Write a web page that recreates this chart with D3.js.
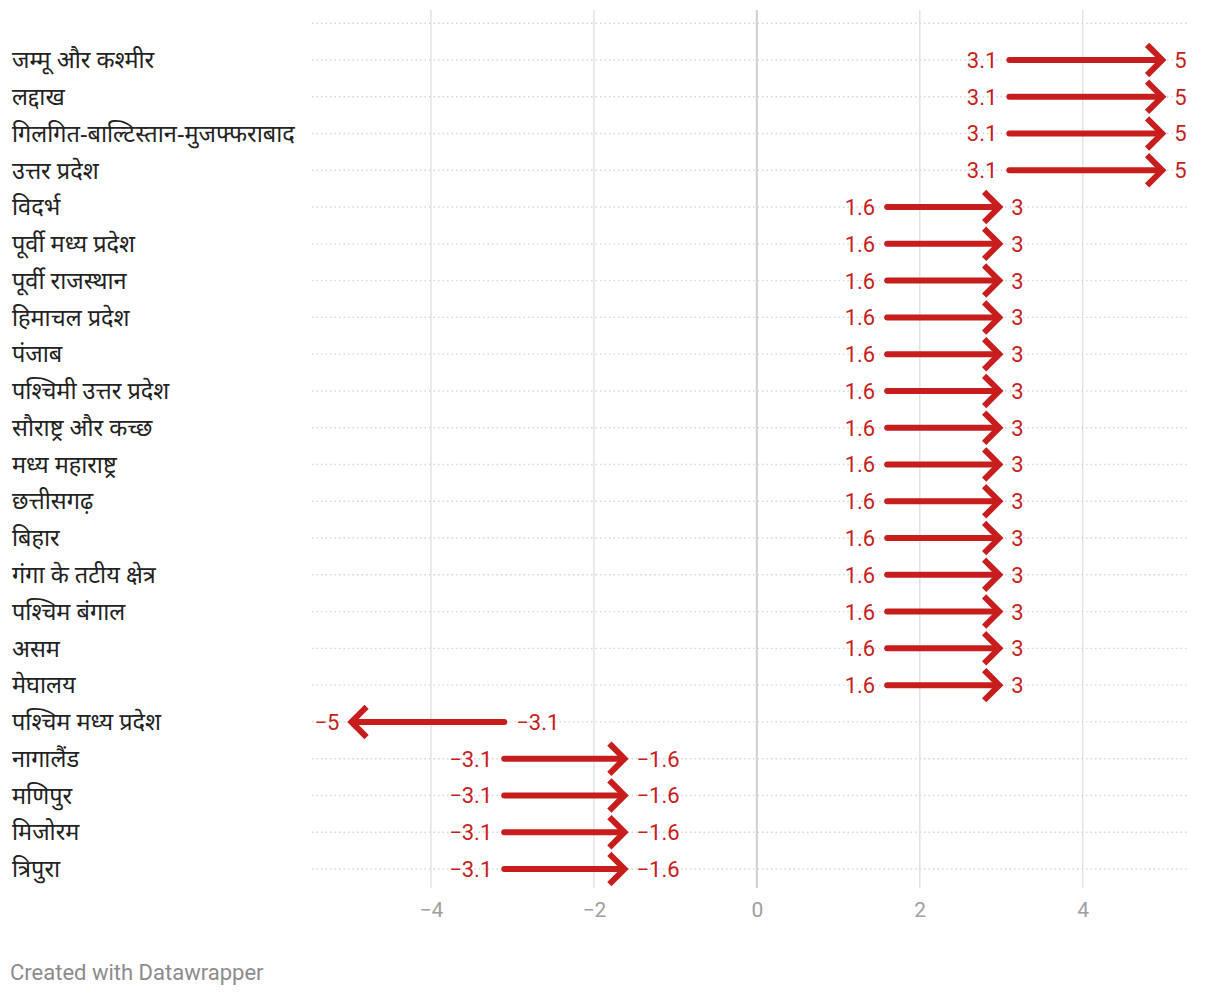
<!DOCTYPE html>
<html>
<head>
<meta charset="utf-8">
<script src="https://cdn.jsdelivr.net/npm/d3@7"></script>
<style>
  body { margin: 0; background: #fff; }
  #chart { width: 1220px; height: 996px; }
</style>
</head>
<body>
<div id="chart"></div>
<script>
const regions = [
  "जम्मू और कश्मीर", "लद्दाख", "गिलगित-बाल्टिस्तान-मुजफ्फराबाद", "उत्तर प्रदेश",
  "विदर्भ", "पूर्वी मध्य प्रदेश", "पूर्वी राजस्थान", "हिमाचल प्रदेश", "पंजाब",
  "पश्चिमी उत्तर प्रदेश", "सौराष्ट्र और कच्छ", "मध्य महाराष्ट्र", "छत्तीसगढ़", "बिहार",
  "गंगा के तटीय क्षेत्र", "पश्चिम बंगाल", "असम", "मेघालय", "पश्चिम मध्य प्रदेश",
  "नागालैंड", "मणिपुर", "मिजोरम", "त्रिपुरा"
];
const startValues = [3.1, 3.1, 3.1, 3.1, 1.6, 1.6, 1.6, 1.6, 1.6, 1.6, 1.6, 1.6, 1.6, 1.6, 1.6, 1.6, 1.6, 1.6, -3.1, -3.1, -3.1, -3.1, -3.1];
const endValues = [5, 5, 5, 5, 3, 3, 3, 3, 3, 3, 3, 3, 3, 3, 3, 3, 3, 3, -5, -1.6, -1.6, -1.6, -1.6];
const xTicks = [-4, -2, 0, 2, 4];

const width = 1220, height = 996;
const red = "#c71e1d";
const fmt = v => String(v).replace("-", "\u2212");

const svg = d3.select("#chart").append("svg")
  .attr("width", width).attr("height", height);

const x = d3.scaleLinear().domain([-5.46, 5.28]).range([312, 1187]);
const y = d3.scalePoint().domain(["__top"].concat(regions)).range([23.2, 869]);

const data = regions.map((r, i) => ({ region: r, start: startValues[i], end: endValues[i] }));

// vertical grid
svg.append("g").selectAll("line").data(xTicks).join("line")
  .attr("x1", d => x(d)).attr("x2", d => x(d))
  .attr("y1", 10).attr("y2", 888)
  .attr("stroke", d => d === 0 ? "#cfcfcf" : "#e3e3e3")
  .attr("stroke-width", d => d === 0 ? 2 : 1.5);

// dotted row lines
svg.append("g").selectAll("line").data(y.domain()).join("line")
  .attr("x1", 312).attr("x2", 1187)
  .attr("y1", d => y(d)).attr("y2", d => y(d))
  .attr("stroke", "#d6d6d6").attr("stroke-width", 1.4)
  .attr("stroke-dasharray", "1.5,3");

// x axis labels
const xAxis = d3.axisBottom(x).tickValues(xTicks).tickSize(0).tickPadding(0).tickFormat(fmt);
const gx = svg.append("g").attr("transform", "translate(0,902)").call(xAxis);
gx.select(".domain").remove();
gx.selectAll("text")
  .attr("font-family", "Roboto, sans-serif").attr("font-size", 21)
  .attr("fill", "#a0a0a0").attr("dy", "0.71em");

// row labels
svg.append("g").selectAll("text").data(data).join("text")
  .attr("x", 12).attr("y", d => y(d.region)).attr("dy", "0.35em")
  .attr("font-family", "'Noto Sans', 'Noto Sans Devanagari', sans-serif")
  .attr("font-size", 23.5).attr("fill", "#222")
  .text(d => d.region);

// arrows
const rows = svg.append("g").selectAll("g").data(data).join("g");
rows.append("line")
  .attr("x1", d => x(d.start)).attr("x2", d => x(d.end) - Math.sign(d.end - d.start) * 3)
  .attr("y1", d => y(d.region)).attr("y2", d => y(d.region))
  .attr("stroke", red).attr("stroke-width", 6).attr("stroke-linecap", "round");
rows.append("path")
  .attr("d", d => {
    const tx = x(d.end) - Math.sign(d.end - d.start) * 2, ty = y(d.region);
    const s = Math.sign(d.end - d.start);
    return `M${tx - s * 13},${ty - 13}L${tx},${ty}L${tx - s * 13},${ty + 13}`;
  })
  .attr("fill", "none").attr("stroke", red).attr("stroke-width", 6)
  .attr("stroke-linejoin", "miter").attr("stroke-linecap", "square");

// value labels
rows.append("text")
  .attr("x", d => x(d.start) + (d.end > d.start ? -12 : 12))
  .attr("y", d => y(d.region)).attr("dy", "0.36em")
  .attr("text-anchor", d => d.end > d.start ? "end" : "start")
  .attr("font-family", "Roboto, sans-serif").attr("font-size", 22).attr("fill", red)
  .text(d => fmt(d.start));
rows.append("text")
  .attr("x", d => x(d.end) + (d.end > d.start ? 10 : -10))
  .attr("y", d => y(d.region)).attr("dy", "0.36em")
  .attr("text-anchor", d => d.end > d.start ? "start" : "end")
  .attr("font-family", "Roboto, sans-serif").attr("font-size", 22).attr("fill", red)
  .text(d => fmt(d.end));

// footer
svg.append("text")
  .attr("x", 10).attr("y", 980)
  .attr("font-family", "Roboto, sans-serif").attr("font-size", 22).attr("fill", "#8c8c8c")
  .text("Created with Datawrapper");
</script>
</body>
</html>
